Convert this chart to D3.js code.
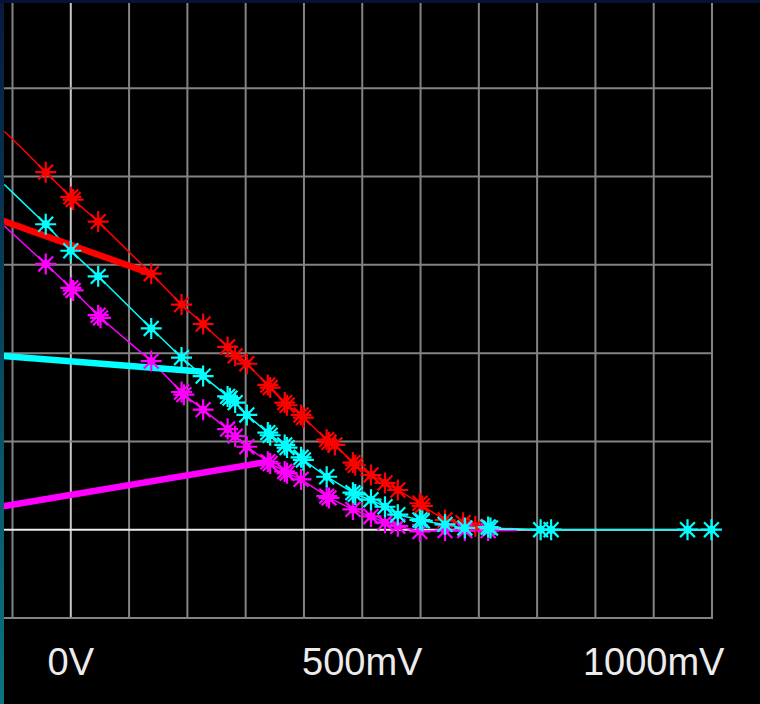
<!DOCTYPE html>
<html>
<head>
<meta charset="utf-8">
<script src="https://cdn.jsdelivr.net/npm/d3@7/dist/d3.min.js"></script>
<style>
  html, body { margin: 0; padding: 0; background: #000; }
  svg { display: block; }
</style>
</head>
<body>
<div class="chart"></div>
<script>
// x ticks (mV) and grid rows
const xTicks = [-100, 0, 100, 200, 300, 400, 500, 600, 700, 800, 900, 1000, 1100];
const xLabels = [{ v: 0, t: "0V" }, { v: 500, t: "500mV" }, { v: 1000, t: "1000mV" }];
const yTicks = [-1, 0, 1, 2, 3, 4, 5];

// thin traces: [mV, value]
const redLine = [[-114, 4.51], [-90, 4.36], [-43, 4.05], [0, 3.77], [4, 3.74], [47, 3.49], [138, 2.90],
  [190, 2.55], [227, 2.33], [269, 2.07], [282, 1.97], [302, 1.88], [338, 1.64], [342, 1.61], [367, 1.44], [371, 1.41],
  [395, 1.30], [399, 1.27], [439, 1.02], [443, 0.99], [453, 0.96], [484, 0.76], [488, 0.73], [515, 0.62], [539, 0.53],
  [561, 0.45], [599, 0.30], [603, 0.27], [642, 0.11], [673, 0.08], [694, 0.04], [716, 0.02]];
const cyanLine = [[-114, 3.91], [-92, 3.77], [-43, 3.46], [0, 3.16], [47, 2.87], [138, 2.28], [190, 1.95], [227, 1.74],
  [269, 1.51], [273, 1.49], [282, 1.44], [302, 1.30], [338, 1.10], [342, 1.07], [367, 0.96], [371, 0.93], [395, 0.82],
  [399, 0.79], [439, 0.60], [484, 0.42], [488, 0.40], [515, 0.34], [539, 0.26], [561, 0.17], [599, 0.11], [603, 0.10],
  [642, 0.06], [676, 0.02], [716, 0.03], [720, 0.02], [806, 0], [824, 0], [1058, 0], [1099, 0], [1108, 0]];
const magentaLine = [[-114, 3.44], [-43, 3.01], [0, 2.74], [4, 2.71], [47, 2.43], [51, 2.40], [138, 1.91], [190, 1.56],
  [194, 1.53], [227, 1.36], [269, 1.14], [282, 1.06], [302, 0.94], [338, 0.77], [342, 0.75], [367, 0.66], [371, 0.64],
  [395, 0.57], [439, 0.38], [443, 0.36], [484, 0.23], [515, 0.15], [539, 0.08], [561, 0.04], [599, -0.02], [642, -0.01],
  [676, -0.01], [716, -0.01], [765, -0.01]];

// thick segments
const redThick = [[-121, 3.51], [138, 2.90]];
const cyanThick = [[-121, 1.97], [227, 1.79]];
const magentaThick = [[-121, 0.26], [338, 0.77]];

const width = 760;
const height = 704;

const svg = d3.select(".chart")
    .append("svg")
    .attr("width", width)
    .attr("height", height);

svg.append("rect").attr("width", width).attr("height", height).attr("fill", "#000");

const x = d3.scaleLinear().domain([-100, 1100]).range([12.5, 712]);
const y = d3.scaleLinear().domain([-1, 6]).range([618, 0]);

const grid = svg.append("g");

// vertical grid
grid.selectAll("line.v")
    .data(xTicks)
    .enter()
    .append("line")
    .attr("x1", d => x(d)).attr("x2", d => x(d))
    .attr("y1", 3).attr("y2", y(-1) + 1)
    .attr("stroke", d => d === 0 ? "#c8c8c8" : "#838383")
    .attr("stroke-width", 2);

// horizontal grid
grid.selectAll("line.h")
    .data(yTicks)
    .enter()
    .append("line")
    .attr("x1", 4).attr("x2", x(1100) + 1)
    .attr("y1", d => y(d)).attr("y2", d => y(d))
    .attr("stroke", d => d === 0 ? "#ebebeb" : "#838383")
    .attr("stroke-width", 2);

const line = d3.line().x(d => x(d[0])).y(d => y(d[1]));

// asterisk marker path
function star(r) {
    let p = "";
    for (let i = 0; i < 4; i++) {
        const a = i * Math.PI / 4;
        const dx = r * Math.cos(a), dy = r * Math.sin(a);
        p += `M${-dx},${-dy}L${dx},${dy}`;
    }
    return p;
}

const series = [
    { pts: redLine, thick: redThick, color: "#ff0000" },
    { pts: magentaLine, thick: magentaThick, color: "#ff00ff" },
    { pts: cyanLine, thick: cyanThick, color: "#00ffff" }
];

series.forEach(s => {
    svg.append("path")
        .attr("d", line(s.pts))
        .attr("fill", "none")
        .attr("stroke", s.color)
        .attr("stroke-width", 1.5);
});

series.forEach(s => {
    svg.append("path")
        .attr("d", line(s.thick))
        .attr("fill", "none")
        .attr("stroke", s.color)
        .attr("stroke-width", 6.5);
});

series.forEach(s => {
    // markers on every point except line ends and the first kink
    const marks = s.pts.filter((d, i) => i > 0 && i < s.pts.length - 1 && d[0] > -80);
    const g = svg.append("g");
    g.selectAll("path")
        .data(marks)
        .enter()
        .append("path")
        .attr("transform", d => `translate(${x(d[0])},${y(d[1])})`)
        .attr("d", star(10.5))
        .attr("stroke", s.color)
        .attr("stroke-width", 2.2)
        .attr("fill", "none");
    g.selectAll("circle")
        .data(marks)
        .enter()
        .append("circle")
        .attr("cx", d => x(d[0]))
        .attr("cy", d => y(d[1]))
        .attr("r", 4)
        .attr("fill", s.color);
});

// axis labels
svg.selectAll("text.xl")
    .data(xLabels)
    .enter()
    .append("text")
    .attr("x", d => x(d.v))
    .attr("y", 675)
    .attr("text-anchor", "middle")
    .attr("font-family", "Liberation Sans, Arial, sans-serif")
    .attr("font-size", 38)
    .attr("fill", "#ececec")
    .text(d => d.t);

// frame edges
const grad = svg.append("defs").append("linearGradient")
    .attr("id", "edge").attr("x1", 0).attr("y1", 0).attr("x2", 0).attr("y2", 1);
grad.append("stop").attr("offset", "0%").attr("stop-color", "#071a3e");
grad.append("stop").attr("offset", "100%").attr("stop-color", "#0b7580");
svg.append("rect").attr("x", 0).attr("y", 0).attr("width", 4).attr("height", height).attr("fill", "url(#edge)");
svg.append("rect").attr("x", 0).attr("y", 0).attr("width", width).attr("height", 3).attr("fill", "#061236");
</script>
</body>
</html>
